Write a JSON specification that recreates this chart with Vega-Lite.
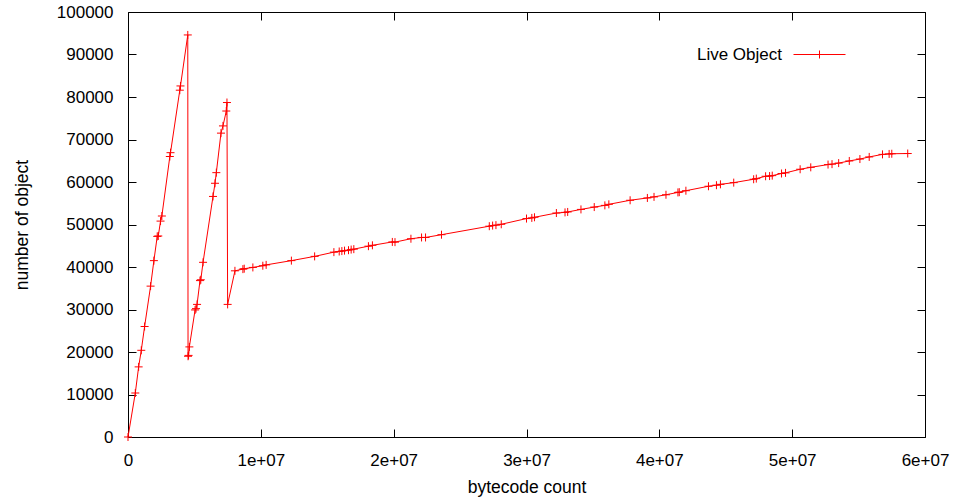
{
  "$schema": "https://vega.github.io/schema/vega-lite/v6.json",
  "width": 797,
  "height": 425,
  "autosize": {"type": "none"},
  "padding": {"left": 128, "top": 12, "right": 33, "bottom": 65},
  "background": "white",
  "config": {
    "view": {"stroke": "#000000", "strokeWidth": 1},
    "axis": {
      "domain": false,
      "grid": false,
      "labelFlush": false,
      "labelFont": "Liberation Sans",
      "labelFontSize": 17,
      "labelColor": "#000000",
      "titleFont": "Liberation Sans",
      "titleFontSize": 17.5,
      "titleFontWeight": "normal",
      "titleColor": "#000000",
      "tickColor": "#000000",
      "tickSize": -8,
      "tickWidth": 1
    }
  },
  "data": {
    "values": [
      {"bytecode": 0, "objects": 0, "series": "Live Object"},
      {"bytecode": 550000, "objects": 10350, "series": "Live Object"},
      {"bytecode": 800000, "objects": 16500, "series": "Live Object"},
      {"bytecode": 1000000, "objects": 20400, "series": "Live Object"},
      {"bytecode": 1250000, "objects": 26000, "series": "Live Object"},
      {"bytecode": 1700000, "objects": 35500, "series": "Live Object"},
      {"bytecode": 1950000, "objects": 41500, "series": "Live Object"},
      {"bytecode": 2200000, "objects": 47200, "series": "Live Object"},
      {"bytecode": 2280000, "objects": 47300, "series": "Live Object"},
      {"bytecode": 2450000, "objects": 50800, "series": "Live Object"},
      {"bytecode": 2550000, "objects": 52000, "series": "Live Object"},
      {"bytecode": 3150000, "objects": 66000, "series": "Live Object"},
      {"bytecode": 3200000, "objects": 66900, "series": "Live Object"},
      {"bytecode": 3900000, "objects": 81600, "series": "Live Object"},
      {"bytecode": 3950000, "objects": 82600, "series": "Live Object"},
      {"bytecode": 4500000, "objects": 94600, "series": "Live Object"},
      {"bytecode": 4520000, "objects": 19000, "series": "Live Object"},
      {"bytecode": 4560000, "objects": 19200, "series": "Live Object"},
      {"bytecode": 4620000, "objects": 21200, "series": "Live Object"},
      {"bytecode": 5050000, "objects": 29900, "series": "Live Object"},
      {"bytecode": 5120000, "objects": 30200, "series": "Live Object"},
      {"bytecode": 5200000, "objects": 31200, "series": "Live Object"},
      {"bytecode": 5420000, "objects": 36800, "series": "Live Object"},
      {"bytecode": 5480000, "objects": 37000, "series": "Live Object"},
      {"bytecode": 5650000, "objects": 41100, "series": "Live Object"},
      {"bytecode": 6400000, "objects": 56600, "series": "Live Object"},
      {"bytecode": 6550000, "objects": 59700, "series": "Live Object"},
      {"bytecode": 6650000, "objects": 62200, "series": "Live Object"},
      {"bytecode": 7000000, "objects": 71500, "series": "Live Object"},
      {"bytecode": 7150000, "objects": 73200, "series": "Live Object"},
      {"bytecode": 7400000, "objects": 76700, "series": "Live Object"},
      {"bytecode": 7450000, "objects": 78700, "series": "Live Object"},
      {"bytecode": 7500000, "objects": 31200, "series": "Live Object"},
      {"bytecode": 8050000, "objects": 39100, "series": "Live Object"},
      {"bytecode": 8650000, "objects": 39500, "series": "Live Object"},
      {"bytecode": 8750000, "objects": 39600, "series": "Live Object"},
      {"bytecode": 9400000, "objects": 39900, "series": "Live Object"},
      {"bytecode": 10150000, "objects": 40300, "series": "Live Object"},
      {"bytecode": 10400000, "objects": 40500, "series": "Live Object"},
      {"bytecode": 12300000, "objects": 41500, "series": "Live Object"},
      {"bytecode": 14050000, "objects": 42500, "series": "Live Object"},
      {"bytecode": 15500000, "objects": 43500, "series": "Live Object"},
      {"bytecode": 15900000, "objects": 43650, "series": "Live Object"},
      {"bytecode": 16100000, "objects": 43750, "series": "Live Object"},
      {"bytecode": 16300000, "objects": 43850, "series": "Live Object"},
      {"bytecode": 16600000, "objects": 43950, "series": "Live Object"},
      {"bytecode": 16800000, "objects": 44100, "series": "Live Object"},
      {"bytecode": 17000000, "objects": 44200, "series": "Live Object"},
      {"bytecode": 18100000, "objects": 44900, "series": "Live Object"},
      {"bytecode": 18400000, "objects": 45100, "series": "Live Object"},
      {"bytecode": 19900000, "objects": 45900, "series": "Live Object"},
      {"bytecode": 20100000, "objects": 45850, "series": "Live Object"},
      {"bytecode": 21300000, "objects": 46650, "series": "Live Object"},
      {"bytecode": 22100000, "objects": 46950, "series": "Live Object"},
      {"bytecode": 22400000, "objects": 46950, "series": "Live Object"},
      {"bytecode": 23600000, "objects": 47600, "series": "Live Object"},
      {"bytecode": 27200000, "objects": 49600, "series": "Live Object"},
      {"bytecode": 27450000, "objects": 49750, "series": "Live Object"},
      {"bytecode": 27700000, "objects": 49850, "series": "Live Object"},
      {"bytecode": 28100000, "objects": 50050, "series": "Live Object"},
      {"bytecode": 30000000, "objects": 51400, "series": "Live Object"},
      {"bytecode": 30400000, "objects": 51550, "series": "Live Object"},
      {"bytecode": 30600000, "objects": 51700, "series": "Live Object"},
      {"bytecode": 32250000, "objects": 52700, "series": "Live Object"},
      {"bytecode": 32900000, "objects": 52850, "series": "Live Object"},
      {"bytecode": 33100000, "objects": 52950, "series": "Live Object"},
      {"bytecode": 34100000, "objects": 53550, "series": "Live Object"},
      {"bytecode": 35100000, "objects": 54100, "series": "Live Object"},
      {"bytecode": 35900000, "objects": 54500, "series": "Live Object"},
      {"bytecode": 36200000, "objects": 54750, "series": "Live Object"},
      {"bytecode": 37800000, "objects": 55700, "series": "Live Object"},
      {"bytecode": 39100000, "objects": 56250, "series": "Live Object"},
      {"bytecode": 39600000, "objects": 56500, "series": "Live Object"},
      {"bytecode": 40500000, "objects": 57000, "series": "Live Object"},
      {"bytecode": 41400000, "objects": 57550, "series": "Live Object"},
      {"bytecode": 41500000, "objects": 57600, "series": "Live Object"},
      {"bytecode": 42000000, "objects": 57950, "series": "Live Object"},
      {"bytecode": 43700000, "objects": 59000, "series": "Live Object"},
      {"bytecode": 44300000, "objects": 59250, "series": "Live Object"},
      {"bytecode": 44600000, "objects": 59450, "series": "Live Object"},
      {"bytecode": 45600000, "objects": 59850, "series": "Live Object"},
      {"bytecode": 47100000, "objects": 60650, "series": "Live Object"},
      {"bytecode": 47300000, "objects": 60800, "series": "Live Object"},
      {"bytecode": 48000000, "objects": 61350, "series": "Live Object"},
      {"bytecode": 48300000, "objects": 61400, "series": "Live Object"},
      {"bytecode": 48500000, "objects": 61500, "series": "Live Object"},
      {"bytecode": 49200000, "objects": 62000, "series": "Live Object"},
      {"bytecode": 49500000, "objects": 62150, "series": "Live Object"},
      {"bytecode": 50600000, "objects": 63000, "series": "Live Object"},
      {"bytecode": 51400000, "objects": 63450, "series": "Live Object"},
      {"bytecode": 52700000, "objects": 64100, "series": "Live Object"},
      {"bytecode": 53000000, "objects": 64200, "series": "Live Object"},
      {"bytecode": 53500000, "objects": 64450, "series": "Live Object"},
      {"bytecode": 54300000, "objects": 64950, "series": "Live Object"},
      {"bytecode": 55100000, "objects": 65400, "series": "Live Object"},
      {"bytecode": 55800000, "objects": 65900, "series": "Live Object"},
      {"bytecode": 56800000, "objects": 66500, "series": "Live Object"},
      {"bytecode": 57300000, "objects": 66600, "series": "Live Object"},
      {"bytecode": 57500000, "objects": 66650, "series": "Live Object"},
      {"bytecode": 58700000, "objects": 66700, "series": "Live Object"}
    ]
  },
  "layer": [
    {
      "mark": {"type": "line", "strokeWidth": 1},
      "encoding": {
        "x": {
          "field": "bytecode", "type": "quantitative",
          "scale": {"domain": [0, 60000000], "nice": false, "zero": false},
          "axis": {"orient": "top", "labels": false, "title": null, "values": [0, 10000000, 20000000, 30000000, 40000000, 50000000, 60000000]}
        },
        "y": {
          "field": "objects", "type": "quantitative",
          "scale": {"domain": [0, 100000], "nice": false},
          "axis": {"orient": "right", "labels": false, "title": null, "values": [0, 10000, 20000, 30000, 40000, 50000, 60000, 70000, 80000, 90000, 100000]}
        },
        "color": {
          "field": "series", "type": "nominal",
          "scale": {"range": ["#ff0000"]},
          "legend": {
            "orient": "none", "legendX": 665, "legendY": 16, "title": null, "padding": 0,
            "symbolType": "M-1,0H1M0,-0.154V0.154", "symbolSize": 2704,
            "symbolStrokeWidth": 1, "symbolStrokeColor": "#ff0000", "symbolFillColor": "transparent",
            "labelAlign": "right", "labelOffset": -64, "labelLimit": 0,
            "labelFont": "Liberation Sans", "labelFontSize": 17, "labelColor": "#000000"
          }
        }
      }
    },
    {
      "mark": {"type": "point", "shape": "M-1,0H1M0,-1V1", "size": 64, "filled": false, "color": "#ff0000", "strokeWidth": 1, "opacity": 1},
      "encoding": {
        "x": {
          "field": "bytecode", "type": "quantitative",
          "axis": {"orient": "bottom", "title": "bytecode count", "titlePadding": 10, "labelPadding": 23, "values": [0, 10000000, 20000000, 30000000, 40000000, 50000000, 60000000],
            "labelExpr": "datum.value == 0 ? '0' : (datum.value / 10000000) + 'e+07'"}
        },
        "y": {
          "field": "objects", "type": "quantitative",
          "axis": {"orient": "left", "title": "number of object", "titlePadding": 25, "labelPadding": 23, "format": "d", "values": [0, 10000, 20000, 30000, 40000, 50000, 60000, 70000, 80000, 90000, 100000]}
        }
      }
    }
  ],
  "resolve": {"axis": {"x": "independent", "y": "independent"}}
}
